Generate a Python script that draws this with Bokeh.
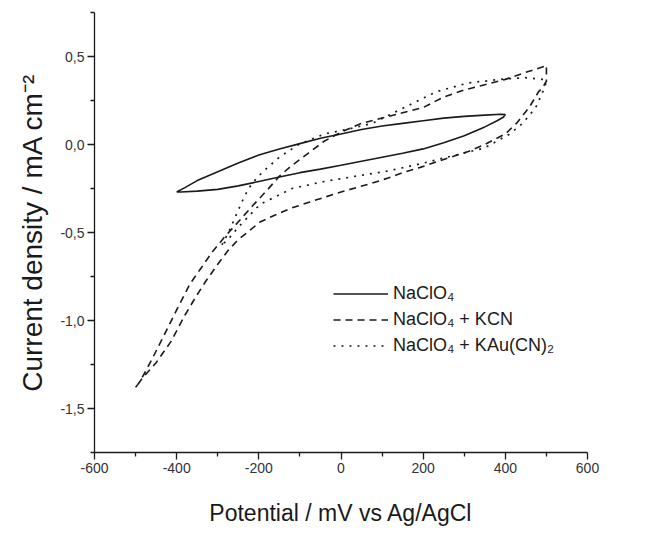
from bokeh.plotting import figure
from bokeh.models import Range1d, FixedTicker, Legend, LegendItem
from bokeh.embed import file_html
from bokeh.resources import INLINE

# ---- data (mV vs Ag/AgCl, mA cm^-2) ----
naclo4_x = [-400, -380, -350, -300, -250, -200, -150, -100, -50, 0, 50, 100, 150, 200, 250, 300, 350, 390, 400,
            395, 380, 350, 300, 250, 200, 150, 100, 50, 0, -50, -100, -150, -200, -250, -300, -350, -390, -400]
naclo4_y = [-0.27, -0.245, -0.205, -0.155, -0.105, -0.06, -0.025, 0.005, 0.035, 0.06, 0.085, 0.105, 0.12, 0.135, 0.15, 0.16, 0.167, 0.172, 0.17,
            0.155, 0.135, 0.10, 0.05, 0.01, -0.025, -0.05, -0.072, -0.095, -0.118, -0.14, -0.16, -0.185, -0.21, -0.235, -0.255, -0.265, -0.27, -0.27]

kcn_x = [-500, -490, -460, -430, -400, -367, -340, -313, -285, -258, -235, -212, -180, -150, -120, -80, -40, 0, 50, 100, 150, 200, 250, 300, 350, 400, 450, 490, 500,
         500, 490, 481, 458, 427, 400, 350, 310, 250, 193, 150, 115, 75, 37, 0, -41, -80, -119, -160, -197, -228, -250, -274, -300, -330, -352, -380, -414, -450, -484, -500]
kcn_y = [-1.38, -1.35, -1.22, -1.08, -0.94, -0.79, -0.70, -0.61, -0.53, -0.46, -0.40, -0.34, -0.26, -0.18, -0.12, -0.05, 0.02, 0.07, 0.12, 0.15, 0.18, 0.21, 0.27, 0.31, 0.34, 0.37, 0.41, 0.44, 0.45,
         0.36, 0.32, 0.30, 0.21, 0.12, 0.06, 0.0, -0.04, -0.085, -0.13, -0.16, -0.19, -0.22, -0.245, -0.27, -0.30, -0.33, -0.36, -0.40, -0.44, -0.50, -0.54, -0.60, -0.68, -0.78, -0.86, -0.97, -1.12, -1.24, -1.33, -1.38]

kau_x = [-290, -285, -270, -255, -240, -225, -205, -188, -149, -103, -40, 22, 76, 154, 232, 310, 388, 449, 490, 500,
         495, 474, 442, 411, 349, 271, 193, 115, 37, -41, -119, -197, -250, -275, -290]
kau_y = [-0.57, -0.55, -0.48, -0.40, -0.32, -0.25, -0.19, -0.15, -0.07, 0.0, 0.06, 0.09, 0.12, 0.21, 0.30, 0.35, 0.37, 0.38, 0.37, 0.36,
         0.32, 0.21, 0.12, 0.06, -0.02, -0.065, -0.11, -0.15, -0.18, -0.21, -0.25, -0.34, -0.47, -0.54, -0.57]

labels = ["NaClO\u2084", "NaClO\u2084 + KCN", "NaClO\u2084 + KAu(CN)\u2082"]

y_ticks = [-1.5, -1.0, -0.5, 0.0, 0.5]
y_tick_labels = ["-1,5", "-1,0", "-0,5", "0,0", "0,5"]
y_minor = [-1.75, -1.25, -0.75, -0.25, 0.25, 0.75]
x_ticks = [-600, -400, -200, 0, 200, 400, 600]
x_tick_labels = ["-600", "-400", "-200", "0", "200", "400", "600"]
x_minor = [-500, -300, -100, 100, 300, 500]

FONT = "Liberation Sans"
INK = "#1a1a1a"

p = figure(width=650, height=532, output_backend="svg", toolbar_location=None,
           x_range=Range1d(-600, 600), y_range=Range1d(-1.75, 0.75),
           min_border_left=94, min_border_right=63, min_border_top=12, min_border_bottom=80)
p.outline_line_color = None
p.grid.visible = False
p.background_fill_color = "white"
p.border_fill_color = "white"

r1 = p.line(naclo4_x, naclo4_y, line_color=INK, line_width=1.6)
r2 = p.line(kcn_x, kcn_y, line_color=INK, line_width=1.6, line_dash="7 5")
r3 = p.line(kau_x, kau_y, line_color=INK, line_width=1.7, line_dash="2 6")

for ax in (p.xaxis[0], p.yaxis[0]):
    ax.axis_line_color = INK
    ax.axis_line_width = 1.3
    ax.major_tick_line_color = INK
    ax.minor_tick_line_color = INK
    ax.major_tick_line_width = 1.3
    ax.minor_tick_line_width = 1.3
    ax.major_tick_in = 0
    ax.major_tick_out = 7
    ax.minor_tick_in = 0
    ax.minor_tick_out = 4
    ax.major_label_text_font = FONT
    ax.major_label_text_font_size = "14px"
    ax.major_label_text_color = "#333333"
    ax.axis_label_text_font = FONT
    ax.axis_label_text_font_style = "normal"
    ax.axis_label_text_color = INK

p.yaxis[0].ticker = FixedTicker(ticks=y_ticks, minor_ticks=y_minor)
p.yaxis[0].major_label_overrides = {t: s for t, s in zip(y_ticks, y_tick_labels)}
p.yaxis[0].axis_label = "Current density / mA cm\u207b\u00b2"
p.yaxis[0].axis_label_text_font_size = "28px"
p.yaxis[0].axis_label_standoff = 9
p.yaxis[0].major_label_standoff = 3

p.xaxis[0].ticker = FixedTicker(ticks=x_ticks, minor_ticks=x_minor)
p.xaxis[0].major_label_overrides = {t: s for t, s in zip(x_ticks, x_tick_labels)}
p.xaxis[0].axis_label = "Potential / mV vs Ag/AgCl"
p.xaxis[0].axis_label_text_font_size = "23px"
p.xaxis[0].axis_label_standoff = 24
p.xaxis[0].major_label_standoff = 3

legend = Legend(items=[LegendItem(label=labels[0], renderers=[r1]),
                       LegendItem(label=labels[1], renderers=[r2]),
                       LegendItem(label=labels[2], renderers=[r3])],
                location=(239, 96), orientation="vertical",
                border_line_alpha=0, background_fill_alpha=0,
                padding=0, margin=0, spacing=5,
                glyph_width=55, glyph_height=21, label_height=21, label_standoff=5,
                label_text_font=FONT, label_text_font_size="18px", label_text_color=INK)
p.add_layout(legend, "center")

open("out.html", "w").write(file_html(p, INLINE))
